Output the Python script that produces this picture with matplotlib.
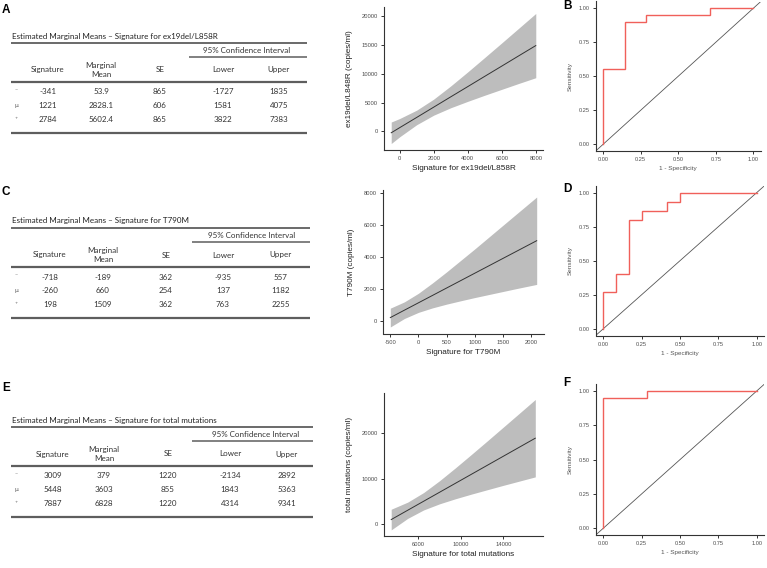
import matplotlib
matplotlib.use('Agg')
import matplotlib.pyplot as plt
from matplotlib.lines import Line2D
from matplotlib.ticker import FormatStrFormatter

plt.rcParams['axes.unicode_minus'] = False

W, H = 767, 568
fig = plt.figure(figsize=(W / 100, H / 100), dpi=100)

# ---------------- data ----------------
row_marks = ['\u207b', '\u03bc', '\u207a']

titles = ['Estimated Marginal Means \u2013 Signature for ex19del/L858R',
          'Estimated Marginal Means \u2013 Signature for T790M',
          'Estimated Marginal Means \u2013 Signature for total mutations']

sig_a = ['-341', '1221', '2784']
mm_a = ['53.9', '2828.1', '5602.4']
se_a = ['865', '606', '865']
low_a = ['-1727', '1581', '3822']
up_a = ['1835', '4075', '7383']

sig_c = ['-718', '-260', '198']
mm_c = ['-189', '660', '1509']
se_c = ['362', '254', '362']
low_c = ['-935', '137', '763']
up_c = ['557', '1182', '2255']

sig_e = ['3009', '5448', '7887']
mm_e = ['379', '3603', '6828']
se_e = ['1220', '855', '1220']
low_e = ['-2134', '1843', '4314']
up_e = ['2892', '5363', '9341']

# regression line + confidence band
x_a = [-500, 0, 1000, 2000, 3000, 4000, 5000, 6000, 7000, 8000]
fit_a = [-230, 660, 2430, 4210, 5990, 7760, 9540, 11310, 13090, 14860]
upr_a = [1630, 2240, 3690, 5600, 7880, 10310, 12810, 15330, 17870, 20420]
lwr_a = [-2090, -920, 1170, 2820, 4100, 5210, 6270, 7290, 8310, 9300]

x_c = [-500, -250, 0, 250, 500, 750, 1000, 1250, 1500, 1750, 2100]
fit_c = [215, 679, 1142, 1605, 2069, 2532, 2996, 3459, 3923, 4386, 5035]
upr_c = [805, 1200, 1740, 2390, 3080, 3800, 4520, 5260, 6000, 6740, 7775]
lwr_c = [-375, 157, 542, 824, 1058, 1268, 1470, 1660, 1850, 2040, 2295]

x_e = [3450, 5000, 6500, 8000, 9500, 11000, 12500, 14000, 15500, 17000]
fit_e = [962, 3012, 4995, 6978, 8961, 10944, 12927, 14910, 16894, 18877]
upr_e = [3240, 4800, 6910, 9520, 12370, 15320, 18310, 21330, 24360, 27400]
lwr_e = [-1310, 1220, 3080, 4430, 5550, 6570, 7540, 8500, 9430, 10360]

# ROC curves (1 - specificity, sensitivity)
fpr_b = [0, 0, 1/7, 1/7, 2/7, 2/7, 5/7, 5/7, 1]
tpr_b = [0, 0.55, 0.55, 0.90, 0.90, 0.95, 0.95, 1.0, 1.0]
fpr_d = [0, 0, 1/12, 1/12, 2/12, 2/12, 3/12, 3/12, 5/12, 5/12, 6/12, 6/12, 1]
tpr_d = [0, 4/15, 4/15, 6/15, 6/15, 12/15, 12/15, 13/15, 13/15, 14/15, 14/15, 1.0, 1.0]
fpr_f = [0, 0, 2/7, 2/7, 1]
tpr_f = [0, 0.95, 0.95, 1.0, 1.0]

# ---------------- helpers ----------------
def rect(l, t, r, b):
    return [l / W, 1 - b / H, (r - l) / W, (b - t) / H]


def ftext(x, y, s, **kw):
    fig.text(x / W, 1 - y / H, s, **kw)


def hline(x1, x2, y, lw=1.3, color='#5e5e5e'):
    fig.add_artist(Line2D([x1 / W, x2 / W], [1 - y / H, 1 - y / H],
                          transform=fig.transFigure, lw=lw, color=color,
                          solid_capstyle='butt'))


TFONT = ['Lato', 'DejaVu Sans']
TSIZE = 5.8
TCOL = '#333333'


def table(y0, cols, title, data, rule_x2, ci_x1):
    xm, xs, xmm, xse, xlo, xup, xci = cols
    ftext(12, y0 + 0, title, family=TFONT, size=TSIZE, color='#222222',
          va='center', ha='left')
    hline(11, rule_x2, y0 + 7)
    ftext(xci, y0 + 14.5, '95% Confidence Interval', family=TFONT, size=TSIZE,
          color=TCOL, va='center', ha='center')
    hline(ci_x1, rule_x2, y0 + 21, lw=1.1)
    hy = y0 + 34
    ftext(xs, hy, 'Signature', family=TFONT, size=TSIZE, color=TCOL, va='center', ha='center')
    ftext(xmm, hy - 4.5, 'Marginal', family=TFONT, size=TSIZE, color=TCOL, va='center', ha='center')
    ftext(xmm, hy + 4.5, 'Mean', family=TFONT, size=TSIZE, color=TCOL, va='center', ha='center')
    ftext(xse, hy, 'SE', family=TFONT, size=TSIZE, color=TCOL, va='center', ha='center')
    ftext(xlo, hy, 'Lower', family=TFONT, size=TSIZE, color=TCOL, va='center', ha='center')
    ftext(xup, hy, 'Upper', family=TFONT, size=TSIZE, color=TCOL, va='center', ha='center')
    hline(11, rule_x2, y0 + 46, lw=1.6)
    sig, mm, se, lo, up = data
    for i in range(3):
        ry = y0 + 56 + i * 13.7
        ftext(xm, ry, row_marks[i], family=['DejaVu Sans'], size=4.3, color='#555555',
              va='center', ha='center')
        for x, v in zip([xs, xmm, xse, xlo, xup], [sig[i], mm[i], se[i], lo[i], up[i]]):
            ftext(x, ry, v, family=TFONT, size=TSIZE, color=TCOL, va='center', ha='center')
    hline(11, rule_x2, y0 + 97, lw=1.6)


table(36, [16.5, 48, 101, 160, 223, 279, 247], titles[0],
      (sig_a, mm_a, se_a, low_a, up_a), 307, 189)
table(221, [16.5, 50, 103, 166, 223, 281, 252], titles[1],
      (sig_c, mm_c, se_c, low_c, up_c), 310, 192)
table(420, [16.5, 53, 104, 168, 230, 287, 256], titles[2],
      (sig_e, mm_e, se_e, low_e, up_e), 313, 192)

# panel letters
for lab, (x, y) in zip('ACEBDF', [(2, 10), (2, 192), (2, 388), (563, 6), (563, 189), (563, 383)]):
    ftext(x, y, lab, family='Liberation Sans', weight='bold', size=8.5,
          color='black', va='center', ha='left')


def style_axes(ax, tick_size=4.2):
    for s in ['top', 'right']:
        ax.spines[s].set_visible(False)
    for s in ['left', 'bottom']:
        ax.spines[s].set_color('#333333')
        ax.spines[s].set_linewidth(0.8)
    ax.tick_params(length=2.5, width=0.7, color='#333333', labelsize=tick_size,
                   labelcolor='#4d4d4d', pad=2)
    for lab in ax.get_xticklabels() + ax.get_yticklabels():
        lab.set_family('Liberation Sans')
    ax.set_facecolor('none')


def reg_plot(r, x, fit, upr, lwr, xlim, ylim, xticks, yticks, xlabel, ylabel):
    ax = fig.add_axes(rect(*r))
    ax.fill_between(x, lwr, upr, color='#bdbdbd', lw=0)
    ax.plot(x, fit, color='#333333', lw=0.7)
    ax.set_xlim(*xlim)
    ax.set_ylim(*ylim)
    ax.set_xticks(xticks)
    ax.set_yticks(yticks)
    ax.set_xlabel(xlabel, family='Liberation Sans', size=5.9, color='#222222', labelpad=3)
    ax.set_ylabel(ylabel, family='Liberation Sans', size=5.9, color='#222222', labelpad=6)
    style_axes(ax)
    return ax


reg_plot((384, 7, 543, 150), x_a, fit_a, upr_a, lwr_a, (-925, 8425), (-3211, 21541),
         [0, 2000, 4000, 6000, 8000], [0, 5000, 10000, 15000, 20000],
         'Signature for ex19del/L858R', 'ex19del/L848R (copies/ml)')
reg_plot((383, 190.5, 544, 333.5), x_c, fit_c, upr_c, lwr_c, (-630, 2230), (-783, 8183),
         [-500, 0, 500, 1000, 1500, 2000], [0, 2000, 4000, 6000, 8000],
         'Signature for T790M', 'T790M (copies/ml)')
reg_plot((384, 393, 542.5, 536), x_e, fit_e, upr_e, lwr_e, (2772, 17678), (-2655, 28826),
         [6000, 10000, 14000], [0, 10000, 20000],
         'Signature for total mutations', 'total mutations (copies/ml)')


def roc_plot(r, fpr, tpr):
    ax = fig.add_axes(rect(*r))
    ax.plot([-0.05, 1.05], [-0.05, 1.05], color='#555555', lw=0.6)
    ax.plot(fpr, tpr, color='#f0605a', lw=1.0, solid_joinstyle='miter')
    ax.set_xlim(-0.05, 1.05)
    ax.set_ylim(-0.05, 1.05)
    ticks = [0, 0.25, 0.5, 0.75, 1.0]
    ax.set_xticks(ticks)
    ax.set_yticks(ticks)
    ax.xaxis.set_major_formatter(FormatStrFormatter('%.2f'))
    ax.yaxis.set_major_formatter(FormatStrFormatter('%.2f'))
    ax.set_xlabel('1 - Specificity', family='Liberation Sans', size=4.6, color='#555555', labelpad=3)
    ax.set_ylabel('Sensitivity', family='Liberation Sans', size=4.6, color='#555555', labelpad=4)
    style_axes(ax, tick_size=4.1)
    return ax


roc_plot((595.7, 1.5, 760.8, 151), fpr_b, tpr_b)
roc_plot((595.7, 185.8, 764.4, 335.5), fpr_d, tpr_d)
roc_plot((595.7, 384.1, 764.4, 535), fpr_f, tpr_f)

fig.savefig('out.png', dpi=100)
